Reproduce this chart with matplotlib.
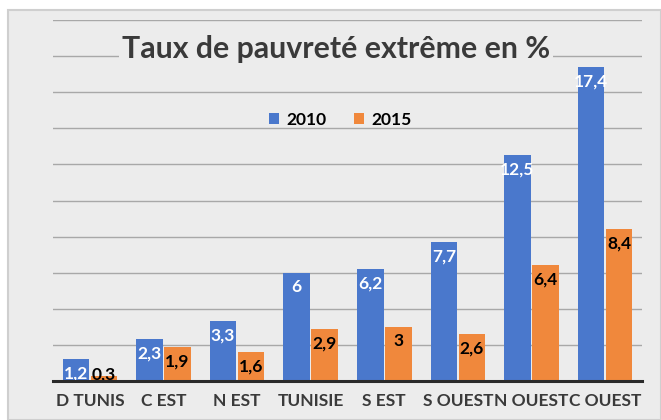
import matplotlib.pyplot as plt
import matplotlib.patches as mpatches
import numpy as np

# Data
regions = ["D TUNIS", "C EST", "N EST", "TUNISIE", "S EST", "S OUEST", "N OUEST", "C OUEST"]
taux_2010 = [1.2, 2.3, 3.3, 6, 6.2, 7.7, 12.5, 17.4]
taux_2015 = [0.3, 1.9, 1.6, 2.9, 3, 2.6, 6.4, 8.4]

blue = "#4a78cc"
orange = "#f0883c"
panel = "#ececec"
dark = "#3a3a3a"

plt.rcParams["font.family"] = ["Lato", "DejaVu Sans"]

fig = plt.figure(figsize=(6.61, 4.2), dpi=100)
fig.patch.set_facecolor("white")

# light gray panel behind the chart
W, H = 661, 420
bg = mpatches.Rectangle((8 / W, 0), 1 - 8 / W, 1 - 10 / H, transform=fig.transFigure,
                        facecolor=panel, edgecolor="#cfcfcf", linewidth=1.5, zorder=-10)
fig.patches.append(bg)

ax = fig.add_axes([53 / W, 39 / H, (642 - 53) / W, (381 - 20) / H])
ax.set_facecolor("none")

x = np.arange(len(regions))
w = 0.36
b1 = ax.bar(x - w / 2 - 0.01, taux_2010, w, color=blue, label="2010", zorder=3)
b2 = ax.bar(x + w / 2 + 0.01, taux_2015, w, color=orange, label="2015", zorder=3)

def fmt(v):
    return f"{v:g}".replace(".", ",")

# labels inside the top of the bars
for xi, v in zip(x, taux_2010):
    ax.text(xi - w / 2 - 0.01, max(v - 0.8, 0.35), fmt(v), ha="center", va="center",
            color="white", fontsize=12.5, fontweight="bold", zorder=4)
for xi, v in zip(x, taux_2015):
    ax.text(xi + w / 2 + 0.01, max(v - 0.8, 0.35), fmt(v), ha="center", va="center",
            color="black", fontsize=12.5, fontweight="bold", zorder=4)

ax.set_xlim(-0.5, len(regions) - 0.5)
ax.set_ylim(0, 20)
ax.set_yticks(np.arange(0, 21, 2))
ax.set_yticklabels([])
ax.tick_params(axis="y", length=0)
ax.grid(axis="y", color="#a8a8a8", linewidth=1, zorder=0)
ax.set_xticks(x)
ax.set_xticklabels(regions, fontsize=12.5, fontweight="bold", color=dark)
ax.tick_params(axis="x", length=0, pad=9)
for s in ["top", "right", "left"]:
    ax.spines[s].set_visible(False)
ax.spines["bottom"].set_color("#2a2a2a")
ax.spines["bottom"].set_linewidth(2.2)
ax.spines["bottom"].set_zorder(5)

fig.text(336 / W, 1 - 49 / H, "Taux de pauvreté extrême en %", ha="center", va="center",
         fontsize=21.8, fontweight="bold", color=dark,
         bbox=dict(facecolor=panel, edgecolor="none", pad=2))

fig.legend(handles=[b1, b2], loc="center", bbox_to_anchor=(340 / W, 1 - 120 / H), ncol=2,
           frameon=False, handlelength=0.6, handleheight=0.6,
           handletextpad=0.4, columnspacing=1.6, prop={"weight": "bold", "size": 12.5})

fig.savefig("out.png", dpi=100)
